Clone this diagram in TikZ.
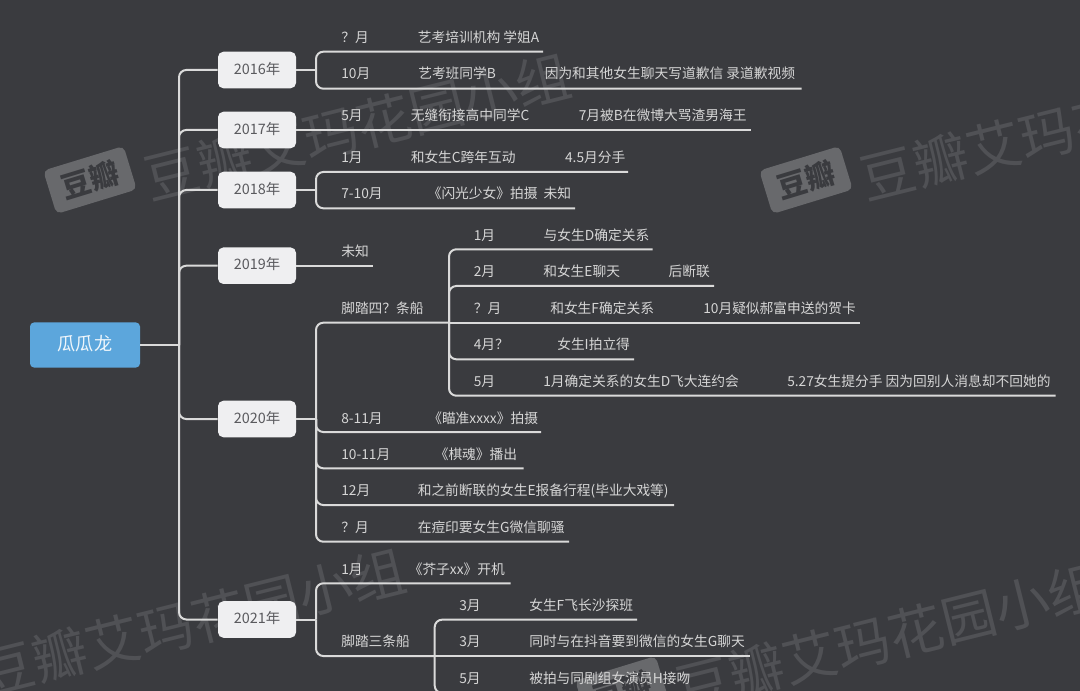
\documentclass[tikz,border=0pt]{standalone}
\usepackage{fontspec}
\setmainfont{Noto Sans CJK SC}
\definecolor{bgc}{HTML}{3A3B3F}
\definecolor{linec}{HTML}{DADADA}
\definecolor{txtc}{HTML}{D6D6D6}
\definecolor{boxc}{HTML}{EFEFF1}
\definecolor{boxt}{HTML}{5A5A5E}
\definecolor{rootc}{HTML}{5CA6DC}
\definecolor{wmc}{HTML}{505155}
\definecolor{badgec}{HTML}{68696C}
\tikzset{
  x=0.75pt,y=-0.75pt,
  conn/.style={draw=linec,line width=1.5pt,rounded corners=5.5pt},
  lbl/.style={anchor=west,inner sep=0pt,text=txtc,font=\fontsize{10.3}{12}\selectfont,text height=9pt,text depth=0.9pt},
  year/.style={fill=boxc,rounded corners=4pt,minimum width=58.5pt,minimum height=27.4pt,inner sep=0pt,text=boxt,font=\fontsize{10.8}{12}\selectfont,text height=8pt,text depth=1.7pt},
  rootbox/.style={fill=rootc,rounded corners=3pt,minimum width=82.5pt,minimum height=33.8pt,inner sep=0pt,text=white!90!rootc,font=\fontsize{13.6}{15}\selectfont,text height=11pt,text depth=3pt},
  wmtext/.style={anchor=west,inner sep=0pt,rotate=14,text=wmc,font=\fontsize{41}{44}\selectfont},
  wmbadge/.style={fill=badgec,rounded corners=4pt,rotate=17,minimum width=63pt,minimum height=34pt,inner sep=0pt,text=bgc,font=\fontsize{22}{26}\bfseries\selectfont},
}
\newcommand{\wmark}[3]{%
  \node[wmbadge] (#1b) at (#2-0,#3+2) {豆瓣};
  \node[wmtext] (#1t) at (#2+55,#3+2) {豆瓣艾玛花园小组};
}
\begin{document}
\begin{tikzpicture}
\fill[bgc] (0,0) rectangle (1080,691);
\useasboundingbox (0,0) rectangle (1080,691);
\clip (0,0) rectangle (1080,691);
% watermarks
\wmark{wa}{90}{178}
\wmark{wb}{806}{178}
\wmark{wc}{-75}{673}
\wmark{wd}{622}{688}
% main nodes
\node[rootbox] (root) at (85,345) {瓜瓜龙};
\node[year] (b16) at (257,70) {2016年};
\node[year] (b17) at (257,130) {2017年};
\node[year] (b18) at (257,190) {2018年};
\node[year] (b19) at (257,265.7) {2019年};
\node[year] (b20) at (257,419) {2020年};
\node[year] (b21) at (257,619.5) {2021年};
% coordinates
\coordinate (sp) at (179,345);
\foreach \n/\x/\y in {
 f16/316/70, a16/543/51.7, c16/801.7/88.7,
 e17/750.7/130,
 f18/316/190, a18/628/172, c18/575/208.3,
 e19/373/265.7,
 f20/316/419, a20/449/322.7, s1/652.6/249.3, s2/714/286, s3/860/322.7, s4/634/359.3, s5/1055.7/395.7,
 t1/541/432, t2/523.6/468.3, t3/674/505, t4/569/541.7,
 f21/316/619.5, a21/510.6/583.3, g21/434.7/656, u1/637/619.7, u2/750/656, u3/700/693}
 {\coordinate (\n) at (\x,\y);}
% connectors
\draw[conn] (root.east) -- (sp);
\foreach \b in {b16,b17,b18,b19,b20,b21} {\draw[conn] (sp) |- (\b.west);}
\draw[conn] (b16.east) -- (f16);
\draw[conn] (f16) |- (a16);
\draw[conn] (f16) |- (c16);
\draw[conn] (b17.east) -- (e17);
\draw[conn] (b18.east) -- (f18);
\draw[conn] (f18) |- (a18);
\draw[conn] (f18) |- (c18);
\draw[conn] (b19.east) -- (e19);
\draw[conn] (b20.east) -- (f20);
\draw[conn] (f20) |- (a20);
\foreach \e in {t1,t2,t3,t4} {\draw[conn] (f20) |- (\e);}
\draw[conn] (a20) -- (s3);
\foreach \e in {s1,s2,s4,s5} {\draw[conn] (a20) |- (\e);}
\draw[conn] (b21.east) -- (f21);
\draw[conn] (f21) |- (a21);
\draw[conn] (f21) |- (g21);
\draw[conn] (g21) -- (u2);
\draw[conn] (g21) |- (u1);
\draw[conn] (g21) |- (u3);
% labels
\foreach \n/\x/\y/\t in {
 l1/341/37/？月, l2/417.7/37/艺考培训机构 学姐A,
 l3/341/73.5/10月, l4/418/73.5/艺考班同学B, l5/544.5/73.5/因为和其他女生聊天写道歉信 录道歉视频,
 l6/341/115/5月, l7/410.5/115/无缝衔接高中同学C, l8/578.6/115/7月被B在微博大骂渣男海王,
 l9/341/157/1月, l10/410.5/157/和女生C跨年互动, l11/564.8/157/4.5月分手,
 l12/341/193.5/7-10月, l13/427.5/193.5/《闪光少女》拍摄, l14/543.4/193.5/未知,
 l15/341/251/未知,
 l16/473.5/235/1月, l17/543.4/235/与女生D确定关系,
 l18/473.5/271.5/2月, l19/543/271.5/和女生E聊天, l20/668.4/271.5/后断联,
 l21/341/308/脚踏四？条船, l22/473.5/308/？月, l23/550/308/和女生F确定关系, l24/703/308/10月疑似郝富申送的贺卡,
 l25/473.5/344/4月？, l26/557/344/女生I拍立得,
 l27/473.5/381/5月, l28/543/381/1月确定关系的女生D飞大连约会, l29/787/381/5.27女生提分手 因为回别人消息却不回她的,
 l30/341/417.7/8-11月, l31/428/417.7/《瞄准xxxx》拍摄,
 l32/341/454/10-11月, l33/434.5/454/《棋魂》播出,
 l34/341/490.5/12月, l35/417.5/490.5/和之前断联的女生E报备行程(毕业大戏等),
 l36/341/527/？月, l37/417.5/527/在痘印要女生G微信聊骚,
 l38/341/568.7/1月, l39/408.5/568.7/《芥子xx》开机,
 l40/459/605/3月, l41/529/605/女生F飞长沙探班,
 l42/341/641.5/脚踏三条船, l43/459/641.5/3月, l44/529/641.5/同时与在抖音要到微信的女生G聊天,
 l45/459/678/5月, l46/529/678/被拍与同剧组女演员H接吻}
 {\node[lbl] (\n) at (\x,\y) {\t};}
\end{tikzpicture}
\end{document}
